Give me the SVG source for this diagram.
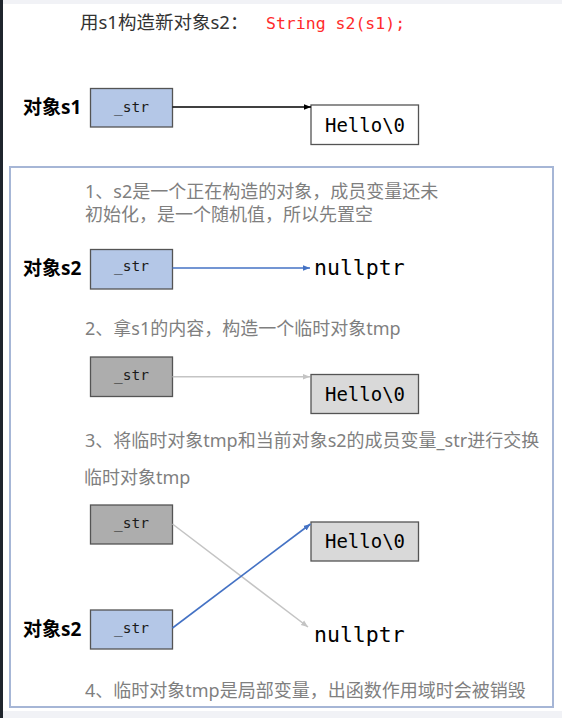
<svg xmlns="http://www.w3.org/2000/svg" width="562" height="718" viewBox="0 0 562 718">
<defs>
<style>
.bg{fill:#ffffff}
.edge{fill:#1f252d}
.strip{fill:#f1f2f6}
.frame{fill:none;stroke:#a6b6d6;stroke-width:2}
.box{stroke:#545454;stroke-width:1.3}
.blue{fill:#b4c7e7}
.dark{fill:#adadad}
.white{fill:#ffffff}
.light{fill:#d9d9d9}
.mono{font-family:"DejaVu Sans Mono","Liberation Mono",monospace}
.cjk{font-family:"Noto Sans","Noto Sans CJK SC",sans-serif}
.label{font-family:"Noto Sans","Noto Sans CJK SC",sans-serif;font-weight:bold;font-size:19px;fill:#000}
.note{font-family:"Noto Sans","Noto Sans CJK SC",sans-serif;font-size:18px;fill:#7f7f7f}
.field{font-family:"DejaVu Sans Mono","Liberation Mono",monospace;font-size:14.5px;fill:#1a1a1a;text-anchor:middle}
.str{font-family:"DejaVu Sans Mono","Liberation Mono",monospace;font-size:19px;fill:#000;text-anchor:middle}
.nul{font-family:"DejaVu Sans Mono","Liberation Mono",monospace;font-size:21.5px;fill:#000}
.c-black{stroke:#000;stroke-width:1.3;fill:none}
.c-blue{stroke:#4472c4;stroke-width:1.6;fill:none}
.c-gray{stroke:#c4c4c4;stroke-width:1.5;fill:none}
</style>
<marker id="ah-black" markerUnits="userSpaceOnUse" markerWidth="8" markerHeight="8" viewBox="0 0 8 8" refX="7" refY="4" orient="auto"><path d="M0,1.2 L7,4 L0,6.8 Z" fill="#000"/></marker>
<marker id="ah-blue" markerUnits="userSpaceOnUse" markerWidth="8" markerHeight="8" viewBox="0 0 8 8" refX="7" refY="4" orient="auto"><path d="M0,1.2 L7,4 L0,6.8 Z" fill="#4472c4"/></marker>
<marker id="ah-gray" markerUnits="userSpaceOnUse" markerWidth="8" markerHeight="8" viewBox="0 0 8 8" refX="7" refY="4" orient="auto"><path d="M0,1.2 L7,4 L0,6.8 Z" fill="#c4c4c4"/></marker>
</defs>

<rect class="bg" x="0" y="0" width="562" height="718"/>
<rect class="strip" x="0" y="0" width="562" height="4"/>
<rect class="strip" x="0" y="711" width="562" height="7"/>
<rect class="edge" x="0" y="0" width="3" height="718"/>

<g id="title">
<text x="80" y="28.5" class="cjk" font-size="18.5" fill="#333333">用s1构造新对象s2：</text>
<text x="266" y="28.5" class="mono" font-size="16.5" fill="#ff2b2b">String s2(s1);</text>
</g>

<rect id="frame" class="frame" x="10" y="167" width="543" height="540"/>

<g id="s1">
<text x="23" y="113.5" class="label">对象s1</text>
<rect class="box blue" x="90.5" y="88.5" width="82" height="38.5"/>
<text x="131.5" y="112" class="field">_str</text>
</g>
<g id="hello1">
<rect class="box white" x="311" y="105" width="107.5" height="39.5"/>
<text x="365" y="131.5" class="str">Hello\0</text>
</g>

<g id="note1">
<text x="85" y="198" class="note">1、s2是一个正在构造的对象，成员变量还未</text>
<text x="85" y="221" class="note">初始化，是一个随机值，所以先置空</text>
</g>

<g id="s2a">
<text x="23" y="274.5" class="label">对象s2</text>
<rect class="box blue" x="90.5" y="249.5" width="82" height="39.5"/>
<text x="131.5" y="271" class="field">_str</text>
</g>
<g id="null1">
<text x="314" y="274.5" class="nul">nullptr</text>
</g>

<g id="note2">
<text x="85" y="335" class="note">2、拿s1的内容，构造一个临时对象tmp</text>
</g>

<g id="tmpA">
<rect class="box dark" x="90.5" y="357" width="82" height="39.5"/>
<text x="131.5" y="380" class="field">_str</text>
</g>
<g id="hello2">
<rect class="box light" x="311" y="374.5" width="107.5" height="39"/>
<text x="365" y="400.5" class="str">Hello\0</text>
</g>

<g id="note3">
<text x="85" y="447" class="note">3、将临时对象tmp和当前对象s2的成员变量_str进行交换</text>
</g>
<g id="tmpLabel">
<text x="84" y="484" class="note">临时对象tmp</text>
</g>

<g id="tmpB">
<rect class="box dark" x="90.5" y="505" width="82" height="39"/>
<text x="131.5" y="528" class="field">_str</text>
</g>
<g id="hello3">
<rect class="box light" x="311" y="522" width="107.5" height="39"/>
<text x="365" y="548" class="str">Hello\0</text>
</g>

<g id="s2b">
<text x="23" y="635.5" class="label">对象s2</text>
<rect class="box blue" x="90.5" y="610" width="82" height="39"/>
<text x="131.5" y="633" class="field">_str</text>
</g>
<g id="null2">
<text x="314" y="642" class="nul">nullptr</text>
</g>

<g id="note4">
<text x="85" y="697" class="note">4、临时对象tmp是局部变量，出函数作用域时会被销毁</text>
</g>

<g id="connectors">
<line class="c-black" x1="172.5" y1="107" x2="311" y2="107" marker-end="url(#ah-black)"/>
<line class="c-blue" x1="172.5" y1="268" x2="310" y2="268" marker-end="url(#ah-blue)"/>
<line class="c-gray" x1="172.5" y1="376.7" x2="310" y2="376.7" marker-end="url(#ah-gray)"/>
<line class="c-gray" x1="172.5" y1="524" x2="308" y2="627" marker-end="url(#ah-gray)"/>
<line class="c-blue" x1="172.5" y1="628" x2="310.5" y2="524" marker-end="url(#ah-blue)"/>
</g>
</svg>
